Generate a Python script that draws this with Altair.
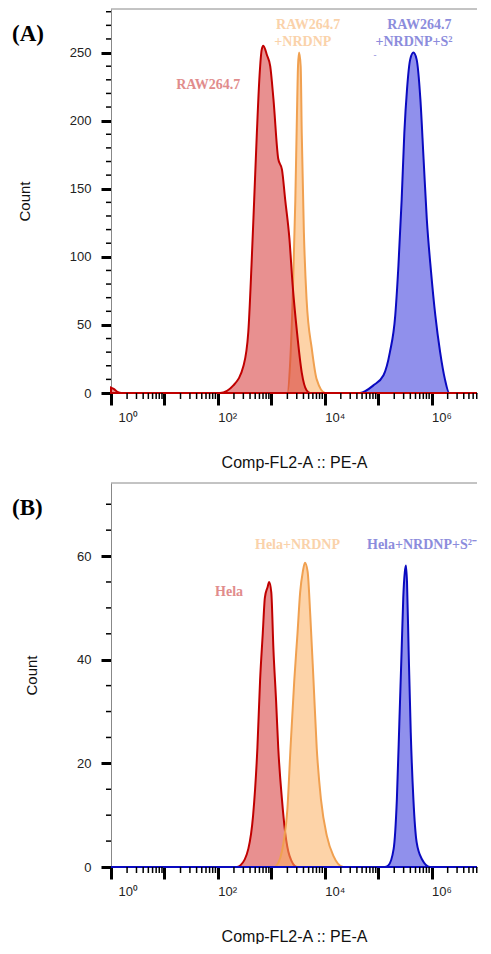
import altair as alt
import pandas as pd

# ---------------- data (x read as log10 decades, y as counts) ----------------
# Panel A
A_RED_LOG = [0.0, 0.05, 0.12, 0.2, 2.04, 2.29, 2.48, 2.57, 2.63, 2.68, 2.73, 2.78, 2.82, 2.85,
             2.92, 2.98, 3.04, 3.13, 3.20, 3.26, 3.34, 3.40, 3.48, 3.57, 3.66, 3.73, 6.85]
A_RED_CNT = [4, 3, 0.8, 0, 0, 5.6, 20, 45, 94, 142, 191, 233, 252, 255,
             248, 240, 216, 172, 164, 142, 113, 79, 45, 15, 2, 0, 0]
A_ORG_LOG = [0, 3.30, 3.35, 3.40, 3.45, 3.48, 3.50, 3.52, 3.55, 3.57, 3.61, 3.66, 3.76, 3.85, 4.01, 6.85]
A_ORG_CNT = [0, 0, 20, 69, 142, 204, 240, 250, 240, 191, 118, 69, 32, 10, 0, 0]
A_BLU_LOG = [0, 4.66, 4.91, 5.10, 5.22, 5.32, 5.38, 5.44, 5.49, 5.54, 5.60, 5.66, 5.72, 5.79,
             5.85, 5.91, 5.99, 6.07, 6.16, 6.25, 6.33, 6.85]
A_BLU_CNT = [0, 0, 5.6, 13, 30, 57, 94, 142, 191, 223, 245, 250, 245, 216,
             172, 128, 89, 57, 30, 10, 0, 0]

# Panel B
B_RED_LOG = [0, 2.35, 2.42, 2.57, 2.66, 2.74, 2.79, 2.84, 2.88, 2.93, 2.96, 3.00, 3.04, 3.09,
             3.13, 3.20, 3.26, 3.34, 3.48, 6.85]
B_RED_CNT = [0, 0, 0.3, 3.5, 10, 23, 36, 45, 52, 54, 55, 53, 42, 32, 23, 13, 6.7, 2.2, 0, 0]
B_ORG_LOG = [0, 3.05, 3.10, 3.23, 3.30, 3.36, 3.43, 3.49, 3.54, 3.59, 3.63, 3.68, 3.73, 3.79,
             3.85, 3.93, 4.04, 4.16, 4.35, 6.85]
B_ORG_CNT = [0, 0, 0.3, 4.8, 11, 23, 36, 45, 53, 57, 58.7, 57, 48.5, 36, 23, 13, 6, 2.2, 0, 0]
B_BLU_LOG = [0, 5.12, 5.19, 5.29, 5.35, 5.40, 5.44, 5.47, 5.50, 5.52, 5.54, 5.57, 5.61, 5.66,
             5.72, 5.82, 5.97, 6.85]
B_BLU_CNT = [0, 0, 0.3, 3.5, 13, 29, 42, 52, 57, 58.2, 55, 42, 26, 13, 4.8, 1.5, 0, 0]

# annotation labels: text, x (log10), y (count), colour key, font size
A_LABELS = ["RAW264.7", "RAW264.7", "+NRDNP", "RAW264.7", "+NRDNP+S²", "-"]
A_LAB_LOG = [1.82, 3.69, 3.59, 5.77, 5.67, 4.94]
A_LAB_CNT = [226, 270, 258, 270, 258, 248.5]
A_LAB_KEY = ["red", "orange", "orange", "blue", "blue", "blue"]
A_LAB_SIZE = [14, 14, 14, 14, 14, 9]

B_LABELS = ["Hela", "Hela+NRDNP", "Hela+NRDNP+S²⁻"]
B_LAB_LOG = [2.21, 3.49, 5.82]
B_LAB_CNT = [53, 62.2, 62.2]
B_LAB_KEY = ["red", "orange", "blue"]
B_LAB_SIZE = [14, 14, 14]

X_MAJOR_EXP = [0, 1, 2, 3, 4, 5, 6]
X_LABEL_EXP = [0, 2, 4, 6]
X_LABEL_TXT = ["10⁰", "10²", "10⁴", "10⁶"]
X_TITLE = "Comp-FL2-A :: PE-A"
Y_TITLE = "Count"

A_Y_MAJOR = [0, 50, 100, 150, 200, 250]
A_Y_MINOR_STEP = 10
A_Y_MAX = 282
B_Y_MAJOR = [0, 20, 40, 60]
B_Y_MINOR_STEP = 5
B_Y_MAX = 74.1

# ---------------- styling ----------------
FILL = {"red": "#D53535", "orange": "#FBAF61", "blue": "#3535DC"}
STROKE = {"red": "#C00000", "orange": "#F0A050", "blue": "#0A0AC0"}
LABEL_COLOR = {"red": "#E18C8C", "orange": "#FAD2AA", "blue": "#8C8CDC"}

W, H = 366, 384
X_MAX_EXP = 6.85
SANS = "Liberation Sans"
SERIF = "Liberation Serif"

x_scale = alt.Scale(type="log", domain=[1, 10 ** X_MAX_EXP], nice=False)
x_values = [10 ** e for e in X_MAJOR_EXP]

label_expr = " : ".join(
    f"datum.value == {10 ** e} ? '{t}'" for e, t in zip(X_LABEL_EXP, X_LABEL_TXT)
) + " : ''"

x_axis = alt.Axis(
    values=x_values, labelExpr=label_expr, title=X_TITLE,
    tickSize=12, tickWidth=3, tickColor="black", domainColor="#888888", domainWidth=1,
    labelAlign="left", labelBaseline="top", labelPadding=6, labelFontSize=13, labelFont=SANS,
    labelColor="#222222", labelFlush=False, labelOverlap=False,
    labelOffset={"condition": {"test": "datum.value < 2", "value": 7}, "value": 0},
    titleFont=SANS, titleFontSize=16, titleFontWeight="normal", titleColor="#111111",
    titlePadding=30, grid=False,
)

x_minor = [k * 10 ** d for d in range(0, 7) for k in range(2, 10) if k * 10 ** d <= 10 ** X_MAX_EXP]


def panel(series, ymax, ymajor, ystep, labels, tag):
    y_scale = alt.Scale(domain=[0, ymax], nice=False, zero=True)
    y_axis = alt.Axis(
        values=ymajor, title=Y_TITLE, tickSize=10, tickWidth=3, tickColor="black",
        domainColor="#888888", domainWidth=1, labelFontSize=13, labelFont=SANS,
        labelColor="#222222", labelPadding=10, titleFont=SANS, titleFontSize=15,
        titleFontWeight="normal", titleColor="#111111", titlePadding=37, grid=False,
    )
    X = alt.X("x:Q", scale=x_scale, axis=x_axis)
    Y = alt.Y("count:Q", scale=y_scale, axis=y_axis)
    layers = []
    for logs, cnts, key in series:
        df = pd.DataFrame({"x": [10 ** v for v in logs], "count": cnts})
        layers.append(
            alt.Chart(df).mark_area(
                interpolate="monotone", fill=FILL[key], fillOpacity=0.55,
                stroke=STROKE[key], strokeWidth=2,
            ).encode(x=X, y=Y)
        )
    # minor ticks
    yminor = [v for v in range(0, int(ymax) + 1, ystep) if v not in ymajor]
    layers.append(
        alt.Chart(pd.DataFrame({"count": yminor})).mark_rule(color="black", strokeWidth=1.5)
        .encode(y=Y, x=alt.value(-5), x2=alt.value(0))
    )
    layers.append(
        alt.Chart(pd.DataFrame({"x": x_minor})).mark_rule(color="black", strokeWidth=1.5)
        .encode(x=X, y=alt.value(H), y2=alt.value(H + 6))
    )
    # top border
    layers.append(
        alt.Chart(pd.DataFrame({"a": [0]})).mark_rule(color="#888888", strokeWidth=1)
        .encode(x=alt.value(0), x2=alt.value(W), y=alt.value(0))
    )
    # annotations
    texts, logs, cnts, keys, sizes = labels
    adf = pd.DataFrame({"x": [10 ** v for v in logs], "count": cnts, "label": texts,
                        "col": [LABEL_COLOR[k] for k in keys], "fs": sizes})
    layers.append(
        alt.Chart(adf).mark_text(font=SERIF, fontWeight="bold", align="center",
                                 baseline="middle")
        .encode(x=X, y=Y, text="label:N", color=alt.Color("col:N", scale=None),
                size=alt.Size("fs:Q", scale=None))
    )
    # panel tag
    layers.append(
        alt.Chart(pd.DataFrame({"a": [0]})).mark_text(
            font=SERIF, fontWeight="bold", fontSize=23, align="left", baseline="middle", color="black")
        .encode(x=alt.value(-99), y=alt.value(25), text=alt.value(tag))
    )
    return alt.layer(*layers).properties(width=W, height=H)


panel_a = panel(
    [(A_BLU_LOG, A_BLU_CNT, "blue"), (A_ORG_LOG, A_ORG_CNT, "orange"), (A_RED_LOG, A_RED_CNT, "red")],
    A_Y_MAX, A_Y_MAJOR, A_Y_MINOR_STEP,
    (A_LABELS, A_LAB_LOG, A_LAB_CNT, A_LAB_KEY, A_LAB_SIZE), "(A)",
)
panel_b = panel(
    [(B_RED_LOG, B_RED_CNT, "red"), (B_ORG_LOG, B_ORG_CNT, "orange"), (B_BLU_LOG, B_BLU_CNT, "blue")],
    B_Y_MAX, B_Y_MAJOR, B_Y_MINOR_STEP,
    (B_LABELS, B_LAB_LOG, B_LAB_CNT, B_LAB_KEY, B_LAB_SIZE), "(B)",
)

chart = (
    alt.vconcat(panel_a, panel_b, spacing=12)
    .properties(padding={"left": 4, "top": 0, "right": 0, "bottom": 0}, background="white")
    .configure_view(stroke=None)
)

chart.save("out.html", embed_options={"renderer": "svg", "actions": False})
